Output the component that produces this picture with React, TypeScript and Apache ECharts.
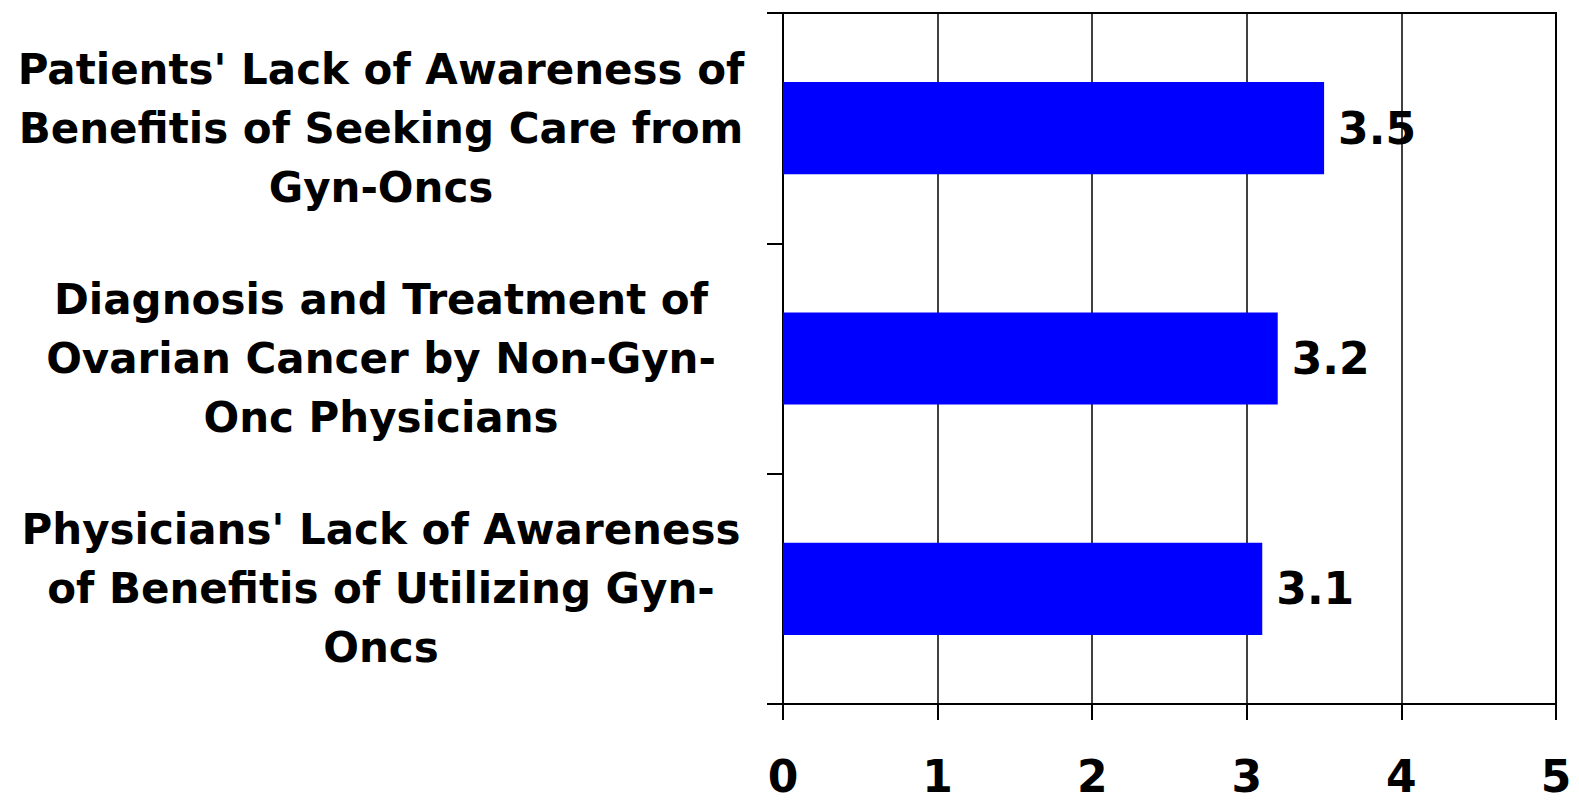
import React, { useEffect, useRef } from "react";
import * as echarts from "echarts";

const categories: string[] = [
  "Patients' Lack of Awareness of\nBenefitis of Seeking Care from\nGyn-Oncs",
  "Diagnosis and Treatment of\nOvarian Cancer by Non-Gyn-\nOnc Physicians",
  "Physicians' Lack of Awareness\nof Benefitis of Utilizing Gyn-\nOncs",
];
const values: number[] = [3.5, 3.2, 3.1];
const xMin = 0;
const xMax = 5;
const xInterval = 1;

const FONT = "'DejaVu Sans', Verdana, sans-serif";

export default function App() {
  const ref = useRef<HTMLDivElement>(null);
  useEffect(() => {
    if (!ref.current) return;
    const chart = echarts.init(ref.current, undefined, { renderer: "svg" });
    chart.setOption({
      animation: false,
      backgroundColor: "#ffffff",
      grid: {
        left: 783,
        right: 23,
        top: 13,
        bottom: 97,
        show: true,
        borderColor: "#000",
        borderWidth: 2,
        containLabel: false,
      },
      xAxis: {
        type: "value",
        min: xMin,
        max: xMax,
        interval: xInterval,
        axisLine: { show: true, lineStyle: { color: "#000", width: 2 } },
        axisTick: { show: true, length: 16, lineStyle: { color: "#000", width: 2 } },
        splitLine: { show: true, lineStyle: { color: "#000", width: 1.5 } },
        axisLabel: {
          margin: 52,
          fontSize: 44,
          lineHeight: 40,
          fontWeight: "bold",
          fontFamily: FONT,
          color: "#000",
        },
      },
      yAxis: {
        type: "category",
        data: categories,
        inverse: true,
        axisLine: { show: true, lineStyle: { color: "#000", width: 2 } },
        axisTick: { show: true, length: 16, lineStyle: { color: "#000", width: 2 } },
        splitLine: { show: false },
        axisLabel: {
          margin: 402,
          align: "center",
          fontSize: 42,
          lineHeight: 59,
          padding: [6, 0, 0, 0],
          fontWeight: "bold",
          fontFamily: FONT,
          color: "#000",
        },
      },
      series: [
        {
          type: "bar",
          data: values,
          barWidth: "40%",
          itemStyle: { color: "#0000ff" },
          label: {
            show: true,
            position: "right",
            distance: 14,
            fontSize: 44,
            fontWeight: "bold",
            fontFamily: FONT,
            color: "#000",
          },
        },
      ],
    });
    return () => chart.dispose();
  }, []);
  return (
    <div
      ref={ref}
      style={{ position: "fixed", left: 0, top: 0, width: 1579, height: 801 }}
    />
  );
}
